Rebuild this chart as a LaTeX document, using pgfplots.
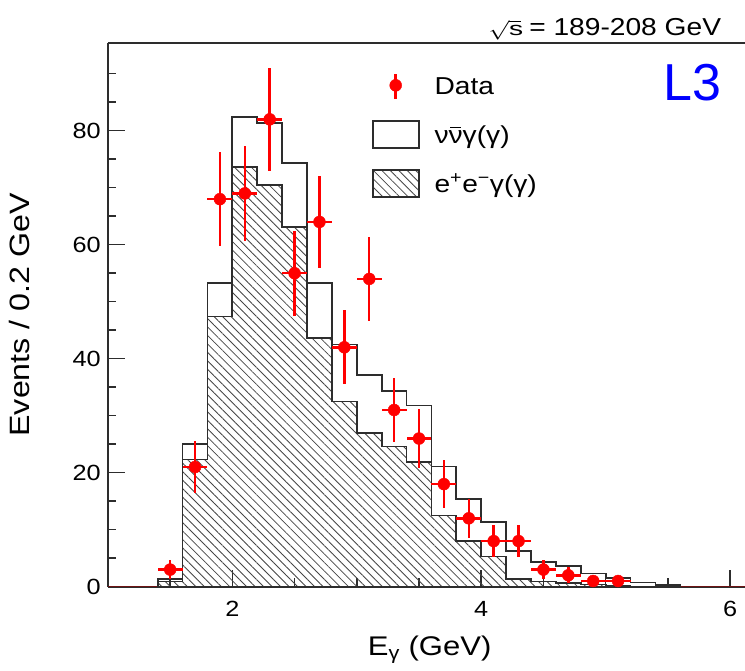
\documentclass[border=0pt]{standalone}
\usepackage{fontspec}
\setmainfont{Liberation Sans}[FakeStretch=1.15]
\newfontfamily\plainfont{Liberation Sans}
\usepackage{pgfplots}
\pgfplotsset{compat=1.18}
\usepackage{pgfplotstable}
\usetikzlibrary{patterns.meta}

\definecolor{histgray}{RGB}{45,45,45}
\definecolor{hatchgray}{RGB}{70,70,70}
\definecolor{datared}{RGB}{255,0,0}
\definecolor{darkred}{RGB}{110,20,20}
\definecolor{lthree}{RGB}{0,0,255}

\newcommand{\nubar}{\makebox[0pt][l]{\kern0.07em\rule[0.62em]{0.44em}{0.06em}}ν}

\pgfplotstableread{
x y ex ey
1.5 3 0.1 1.73
1.7 21 0.1 4.58
1.9 68 0.1 8.25
2.1 69 0.1 8.31
2.3 82 0.1 9.06
2.5 55 0.1 7.42
2.7 64 0.1 8.00
2.9 42 0.1 6.48
3.1 54 0.1 7.35
3.3 31 0.1 5.57
3.5 26 0.1 5.10
3.7 18 0.1 4.24
3.9 12 0.1 3.46
4.1 8 0.1 2.83
4.3 8 0.1 2.83
4.5 3 0.1 1.73
4.7 2 0.1 1.41
4.9 1 0.1 1.00
5.1 1 0.1 1.00
}\datatab

\pgfplotstableread{
x y
1.4 0
1.4 1.4
1.6 25.1
1.8 53.3
2.0 82.4
2.2 81.3
2.4 74.3
2.6 53.3
2.8 42.5
3.0 37.2
3.2 34.3
3.4 31.8
3.6 21.1
3.8 15.4
4.0 11.3
4.2 6.2
4.4 4.4
4.6 3.7
4.8 2.3
5.0 1.5
5.2 0.75
5.4 0.3
5.6 0.3
5.6 0
}\nunutab

\pgfplotstableread{
x y
1.4 0
1.4 0.9
1.6 22.3
1.8 47.4
2.0 73.7
2.2 70.5
2.4 63.1
2.6 43.6
2.8 32.5
3.0 27.0
3.2 24.6
3.4 21.9
3.6 12.5
3.8 7.95
4.0 5.3
4.2 1.35
4.4 0.9
4.6 0.6
4.8 0.4
5.0 0.2
5.2 0.2
5.2 0
}\eegtab

\begin{document}
\begin{tikzpicture}
\begin{axis}[
  name=ax, at={(0pt,0pt)}, anchor=south west,
  scale only axis, width=637.4pt, height=544pt,
  xmin=1, xmax=6.12, ymin=0, ymax=95.4,
  clip=false,
  axis x line*=bottom, axis y line*=left,
  axis line style={line width=1.8pt, histgray, -},
  tick align=inside,
  xtick={2,4,6}, minor xtick={1.5,2.5,3,3.5,4.5,5,5.5},
  ytick={0,20,40,60,80},
  minor ytick={5,10,15,25,30,35,45,50,55,65,70,75,85,90},
  major tick length=17pt, minor tick length=8.5pt,
  every tick/.style={line width=1.5pt, histgray},
  /pgf/number format/assume math mode=true,
  tick label style={font=\fontsize{22}{26}\selectfont},
  xticklabel style={anchor=base, yshift=-30pt},
  yticklabel style={anchor=east, xshift=-3.7pt},
  xlabel={E\textsubscript{γ} (GeV)},
  ylabel={Events / 0.2 GeV},
  every axis x label/.style={at={([yshift=-69pt]rel axis cs:0.505,0)}, anchor=base, font=\fontsize{27}{30}\selectfont},
  every axis y label/.style={at={([xshift=-78pt]rel axis cs:0,0.5)}, rotate=90, anchor=base, font=\fontsize{28}{30}\selectfont},
  legend style={at={(0.4142,0.945)}, anchor=north west, draw=none, fill=none,
    inner sep=0pt, outer sep=0pt, row sep=19.7pt, column sep=15pt,
    font=\fontsize{24.5}{28}\selectfont,
    cells={anchor=base west},
    nodes={inner sep=0pt, text height=18pt, text depth=6pt}},
]
\addplot[darkred, line width=1.5pt, forget plot] coordinates {(1,0) (1.4,0)};
\addplot[darkred, line width=1.5pt, forget plot] coordinates {(5.6,0) (6.12,0)};
\addplot[const plot, draw=histgray, line width=1.8pt, forget plot] table[x=x,y=y] {\nunutab};
\addplot[const plot, draw=histgray, line width=1.8pt, pattern={Lines[angle=-45,distance=6pt,line width=0.85pt]}, pattern color=hatchgray, forget plot] table[x=x,y=y] {\eegtab} \closedcycle;
\addplot[forget plot, only marks, mark=*, mark size=6pt, color=datared, mark options={fill=datared, draw=datared},
  error bars/.cd, x dir=both, x explicit, y dir=both, y explicit,
  error bar style={line width=2.5pt, datared}, error mark=none]
  table[x=x, y=y, x error=ex, y error=ey] {\datatab};

\addlegendimage{legend image code/.code={\draw[datared, line width=2.5pt] (23pt,-5pt) -- (23pt,20pt); \fill[datared] (23pt,8.8pt) circle (6pt);}}
\addlegendentry{Data}
\addlegendimage{legend image code/.code={\draw[histgray, line width=1.8pt, fill=white] (0pt,-4.7pt) rectangle (46pt,22.3pt);}}
\addlegendentry{ν\nubar γ(γ)}
\addlegendimage{legend image code/.code={\draw[histgray, line width=1.8pt, pattern={Lines[angle=-45,distance=6pt,line width=0.85pt]}, pattern color=hatchgray] (0pt,-4.7pt) rectangle (46pt,22.3pt);}}
\addlegendentry{e\textsuperscript{+}e\textsuperscript{−}γ(γ)}

\draw[histgray, line width=1.8pt] (rel axis cs:0,1) -- (rel axis cs:1,1);
\node[anchor=base east, font=\fontsize{24.5}{28}\selectfont] at (rel axis cs:0.968,1.0129) {\scalebox{1}[0.78]{$\sqrt{\mathrm{s}}$} = 189-208 GeV};
\node[anchor=base east, text=lthree, font=\plainfont\fontsize{52}{60}\selectfont] at (rel axis cs:0.968,0.895) {L3};
\end{axis}
\pgfresetboundingbox
\path[use as bounding box] ([xshift=-108pt,yshift=-84pt]ax.south west) rectangle ([yshift=43pt]ax.north east);
\end{tikzpicture}
\end{document}
